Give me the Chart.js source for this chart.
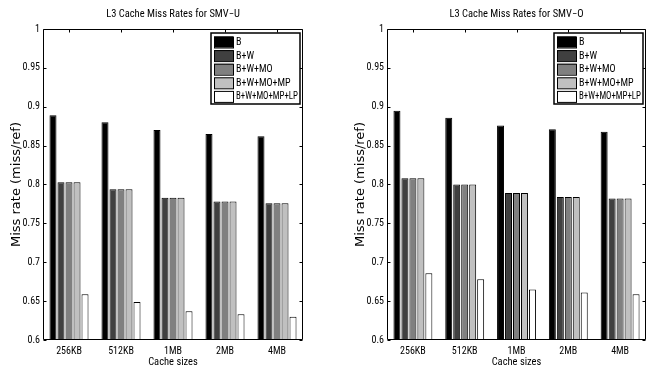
<!DOCTYPE html>
<html>
<head>
<meta charset="utf-8">
<script src="https://cdn.jsdelivr.net/npm/chart.js@4/dist/chart.umd.min.js"></script>
<style>
  html, body { margin: 0; padding: 0; background: #fff; overflow: hidden; }
  #wrap { position: relative; width: 661px; height: 369px; }
  .box { position: absolute; top: 0; height: 369px; }
  #boxU { left: 0; width: 330px; }
  #boxO { left: 344px; width: 317px; }
</style>
</head>
<body>
<div id="wrap">
  <div class="box" id="boxU"><canvas id="chartU"></canvas></div>
  <div class="box" id="boxO"><canvas id="chartO"></canvas></div>
</div>
<script>
// --- Datos ---
const cacheSizes = ["256KB", "512KB", "1MB", "2MB", "4MB"];
const schemes = ["B", "B+W", "B+W+MO", "B+W+MO+MP", "B+W+MO+MP+LP"];
const yTicks = [0.6, 0.65, 0.7, 0.75, 0.8, 0.85, 0.9, 0.95, 1];

// SMV-U
const smvuB    = [0.889, 0.880, 0.870, 0.865, 0.862];
const smvuW    = [0.803, 0.794, 0.783, 0.778, 0.776];
const smvuMO   = [0.803, 0.794, 0.783, 0.778, 0.776];
const smvuMP   = [0.803, 0.794, 0.783, 0.778, 0.776];
const smvuLP   = [0.659, 0.649, 0.637, 0.633, 0.630];

// SMV-O
const smvoB    = [0.895, 0.886, 0.876, 0.871, 0.868];
const smvoW    = [0.808, 0.800, 0.789, 0.784, 0.782];
const smvoMO   = [0.808, 0.800, 0.789, 0.784, 0.782];
const smvoMP   = [0.808, 0.800, 0.789, 0.784, 0.782];
const smvoLP   = [0.686, 0.678, 0.665, 0.661, 0.659];

const fills = ["#000000", "#404040", "#808080", "#c0c0c0", "#ffffff"];
const NARROW = "'Roboto Condensed', 'DejaVu Sans Condensed', sans-serif";

// --- Marco con ticks hacia dentro (estilo Matlab) ---
const framePlugin = {
  id: "frame",
  afterDatasetsDraw(chart) {
    const { ctx, chartArea: a, scales: { x, y } } = chart;
    const L = Math.round(a.left) + 0.5, R = Math.round(a.right) - 0.5;
    const T = Math.round(a.top) + 0.5, B = Math.round(a.bottom) - 0.5;
    ctx.save();
    ctx.strokeStyle = "#000";
    ctx.lineWidth = 1;
    ctx.beginPath();
    ctx.rect(L, T, R - L, B - T);
    yTicks.forEach(v => {
      const py = Math.round(y.getPixelForValue(v)) + 0.5;
      ctx.moveTo(L, py); ctx.lineTo(L + 3, py);
      ctx.moveTo(R, py); ctx.lineTo(R - 3, py);
    });
    cacheSizes.forEach((c, i) => {
      const px = Math.round(x.getPixelForValue(i)) + 0.5;
      ctx.moveTo(px, T); ctx.lineTo(px, T + 3);
    });
    ctx.stroke();
    ctx.restore();
  }
};

// --- Leyenda dentro del área ---
const legendPlugin = {
  id: "boxLegend",
  afterDraw(chart) {
    const { ctx, chartArea: a } = chart;
    const w = 89, h = 71;
    const x0 = Math.round(a.right) - 3 - w, y0 = Math.round(a.top) + 4;
    ctx.save();
    ctx.fillStyle = "#fff";
    ctx.fillRect(x0, y0, w, h);
    ctx.strokeStyle = "#000";
    ctx.lineWidth = 1.5;
    ctx.strokeRect(x0, y0, w, h);
    ctx.font = "10px " + NARROW;
    ctx.textBaseline = "middle";
    ctx.textAlign = "left";
    chart.data.datasets.forEach((ds, i) => {
      const sy = y0 + 3.5 + i * 13.6;
      ctx.fillStyle = ds.backgroundColor;
      ctx.fillRect(x0 + 3, sy, 19, 11);
      ctx.lineWidth = 1;
      ctx.strokeRect(x0 + 3.5, sy + 0.5, 19, 11);
      ctx.fillStyle = "#000";
      ctx.fillText(ds.label, x0 + 25, sy + 6, 62);
    });
    ctx.restore();
  }
};

function makeChart(id, title, series, rightPad) {
  return new Chart(document.getElementById(id), {
    type: "bar",
    data: {
      labels: cacheSizes,
      datasets: series.map((d, i) => ({
        label: schemes[i],
        data: d,
        backgroundColor: fills[i],
        borderColor: "#000",
        borderWidth: 1,
        categoryPercentage: 0.77,
        barPercentage: 0.875
      }))
    },
    options: {
      responsive: true,
      maintainAspectRatio: false,
      animation: false,
      events: [],
      layout: { padding: { left: 0, right: rightPad, top: 0, bottom: 0 } },
      plugins: {
        legend: { display: false },
        tooltip: { enabled: false },
        title: {
          display: true,
          text: title,
          fullSize: false,
          color: "#000",
          font: { family: NARROW, size: 10.5, weight: "normal", lineHeight: 1 },
          padding: { top: 9, bottom: 9.5 }
        }
      },
      scales: {
        x: {
          grid: { display: false, drawTicks: false },
          border: { display: false },
          ticks: { color: "#000", padding: 5, maxRotation: 0, font: { family: NARROW, size: 10 } },
          title: {
            display: true, text: "Cache sizes", color: "#000",
            font: { family: NARROW, size: 10.5, lineHeight: 1.2 },
            padding: { top: 0, bottom: 0 }
          },
          afterFit: s => { s.height = 29; }
        },
        y: {
          min: 0.6, max: 1,
          grid: { display: false, drawTicks: false },
          border: { display: false },
          afterBuildTicks: s => { s.ticks = yTicks.map(v => ({ value: v })); },
          ticks: {
            color: "#000", padding: 3,
            font: { family: NARROW, size: 10 },
            callback: v => String(+v.toFixed(2))
          },
          title: {
            display: true, text: "Miss rate (miss/ref)", color: "#000",
            font: { family: "'DejaVu Sans', sans-serif", size: 13, lineHeight: 1.2 },
            padding: { top: 9, bottom: 0 }
          },
          afterFit: s => { s.width = 43; }
        }
      }
    },
    plugins: [framePlugin, legendPlugin]
  });
}

document.addEventListener("DOMContentLoaded", () => {
  makeChart("chartU", "L3 Cache Miss Rates for SMV\u2212U", [smvuB, smvuW, smvuMO, smvuMP, smvuLP], 27);
  makeChart("chartO", "L3 Cache Miss Rates for SMV\u2212O", [smvoB, smvoW, smvoMO, smvoMP, smvoLP], 15);
});
</script>
</body>
</html>
